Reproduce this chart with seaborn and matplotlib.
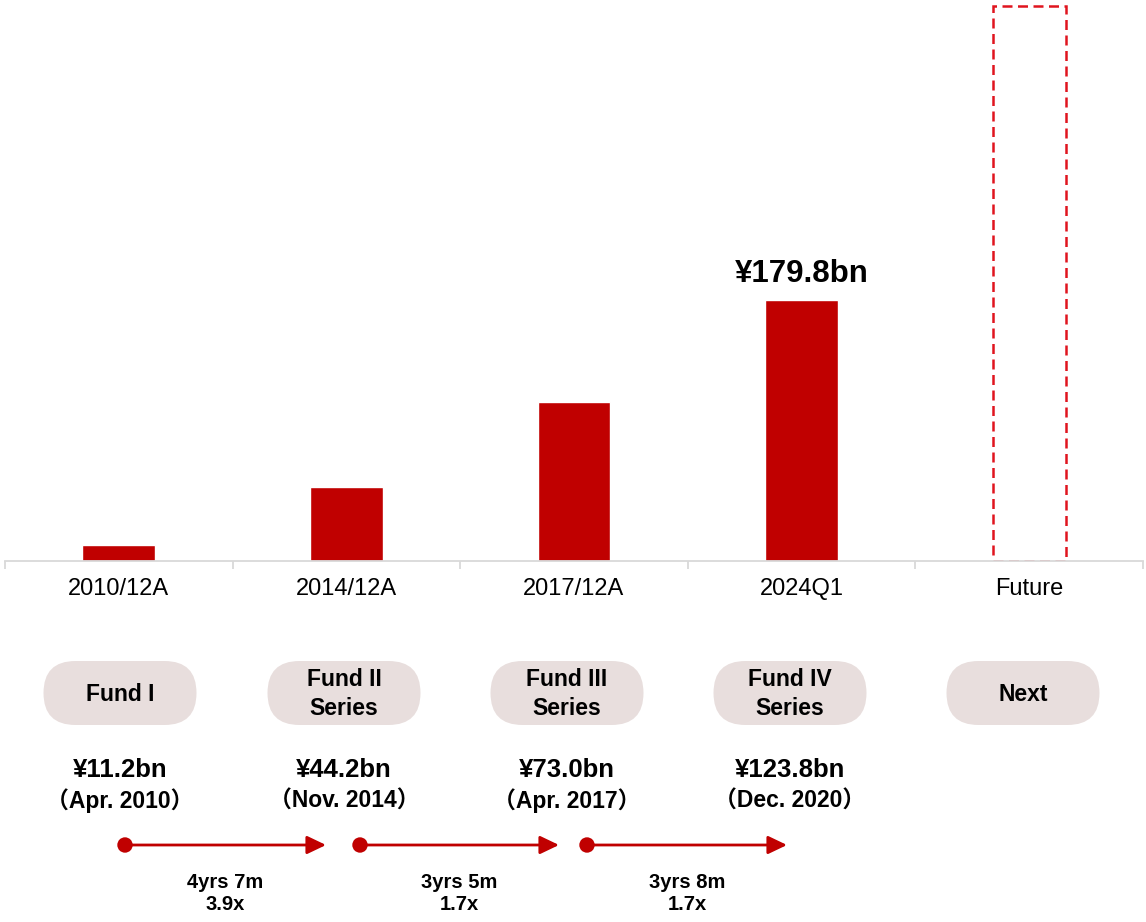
import matplotlib
matplotlib.use('Agg')
import matplotlib.pyplot as plt
import seaborn as sns
import pandas as pd
from matplotlib.patches import FancyBboxPatch, Circle

# Data
periods = ['2010/12A', '2014/12A', '2017/12A', '2024Q1', 'Future']
aum = [11.2, 51.0, 109.5, 179.8, 383.0]   # last one is the dashed "future" target
highlight_label = '¥179.8bn'

funds = ['Fund I', 'Fund II\nSeries', 'Fund III\nSeries', 'Fund IV\nSeries', 'Next']
fund_sizes = ['¥11.2bn', '¥44.2bn', '¥73.0bn', '¥123.8bn', '']
fund_dates = ['（Apr. 2010）', '（Nov. 2014）', '（Apr. 2017）', '（Dec. 2020）', '']
gaps = ['4yrs 7m\n3.9x', '3yrs 5m\n1.7x', '3yrs 8m\n1.7x']

RED = '#C00000'
DASH_RED = '#E0141E'
PILL = '#E8DEDD'
GREY = '#D9D9D9'

sns.set_style('white')
plt.rcParams['font.family'] = ['Liberation Sans', 'Noto Sans CJK JP', 'DejaVu Sans']
plt.rcParams['text.color'] = 'black'
plt.rcParams['xtick.color'] = 'black'

W, H = 1146, 922
fig = plt.figure(figsize=(W / 100, H / 100), dpi=100)

# overlay in pixel coordinates for the fund timeline below the chart
ov = fig.add_axes([0, 0, 1, 1], zorder=0)
ov.set_xlim(0, W)
ov.set_ylim(H, 0)
ov.axis('off')

# main bar chart
base_y = 561
ax = fig.add_axes([5 / W, (H - base_y) / H, 1138 / W, base_y / H], zorder=1)
ax.patch.set_alpha(0)
df = pd.DataFrame({'period': periods, 'aum': aum})
sns.barplot(data=df, x='period', y='aum', color=RED, width=0.32,
            saturation=1, ax=ax)

# future bar: dashed outline only
fut = ax.patches[4]
fut.set_facecolor('none')
fut.set_edgecolor(DASH_RED)
fut.set_linewidth(1.8)
fut.set_linestyle((0, (4.0, 2.2)))

ax.set_ylim(0, base_y * 179.8 / 260.7)
ax.set_xlim(-0.5, 4.5)
ax.set_xlabel('')
ax.set_ylabel('')
ax.set_yticks([])
for s in ['left', 'top', 'right']:
    ax.spines[s].set_visible(False)
ax.spines['bottom'].set_color(GREY)
ax.spines['bottom'].set_linewidth(1.3)
ax.spines['bottom'].set_zorder(5)
ax.set_xticks(range(len(periods)))
ax.set_xticklabels(periods, fontsize=17)
ax.set_xticks([i - 0.5 for i in range(len(periods) + 1)], minor=True)
ax.tick_params(axis='x', which='major', bottom=False, length=0, pad=12, labelcolor='black')
ax.tick_params(axis='x', which='minor', bottom=True, length=5.5, width=1.3, color=GREY)

ax.annotate(highlight_label, (3, aum[3]), xytext=(0, 8), textcoords='offset points',
            ha='center', va='bottom', fontsize=22.5, fontweight='bold', color='black')

# fund pills and sizes
pill_x = [120, 344, 567, 790, 1023]
pill_w, pill_h, pill_y = 153, 64, 693
for i, name in enumerate(funds):
    cx = pill_x[i]
    ov.add_patch(FancyBboxPatch((cx - pill_w / 2, pill_y - pill_h / 2), pill_w, pill_h,
                                boxstyle=f'round,pad=0,rounding_size={pill_h / 2}',
                                facecolor=PILL, edgecolor='none'))
    ov.text(cx, pill_y + 1, name, ha='center', va='center', fontsize=16.5,
            fontweight='bold', linespacing=1.3)
    if fund_sizes[i]:
        ov.text(cx, 770, fund_sizes[i], ha='center', va='center', fontsize=18.5,
                fontweight='bold')
        ov.text(cx, 801, fund_dates[i], ha='center', va='center', fontsize=16.5,
                fontweight='bold')

# arrows between fund launches
arrow_start = [125, 360, 587]
arrow_end = [326, 559, 787]
arrow_y = 845
for x0, x1, lab in zip(arrow_start, arrow_end, gaps):
    ov.annotate('', xy=(x1, arrow_y), xytext=(x0, arrow_y),
                arrowprops=dict(arrowstyle='-|>,head_length=1.15,head_width=0.55',
                                color=RED, lw=2, shrinkA=0, shrinkB=0,
                                mutation_scale=10))
    ov.add_patch(Circle((x0, arrow_y), 7.7, facecolor=RED, edgecolor='none'))
    ov.text((x0 + x1) / 2, 893, lab, ha='center', va='center', fontsize=14.5,
            fontweight='bold', linespacing=1.2)

fig.savefig('out.png', dpi=100)
plt.close(fig)
